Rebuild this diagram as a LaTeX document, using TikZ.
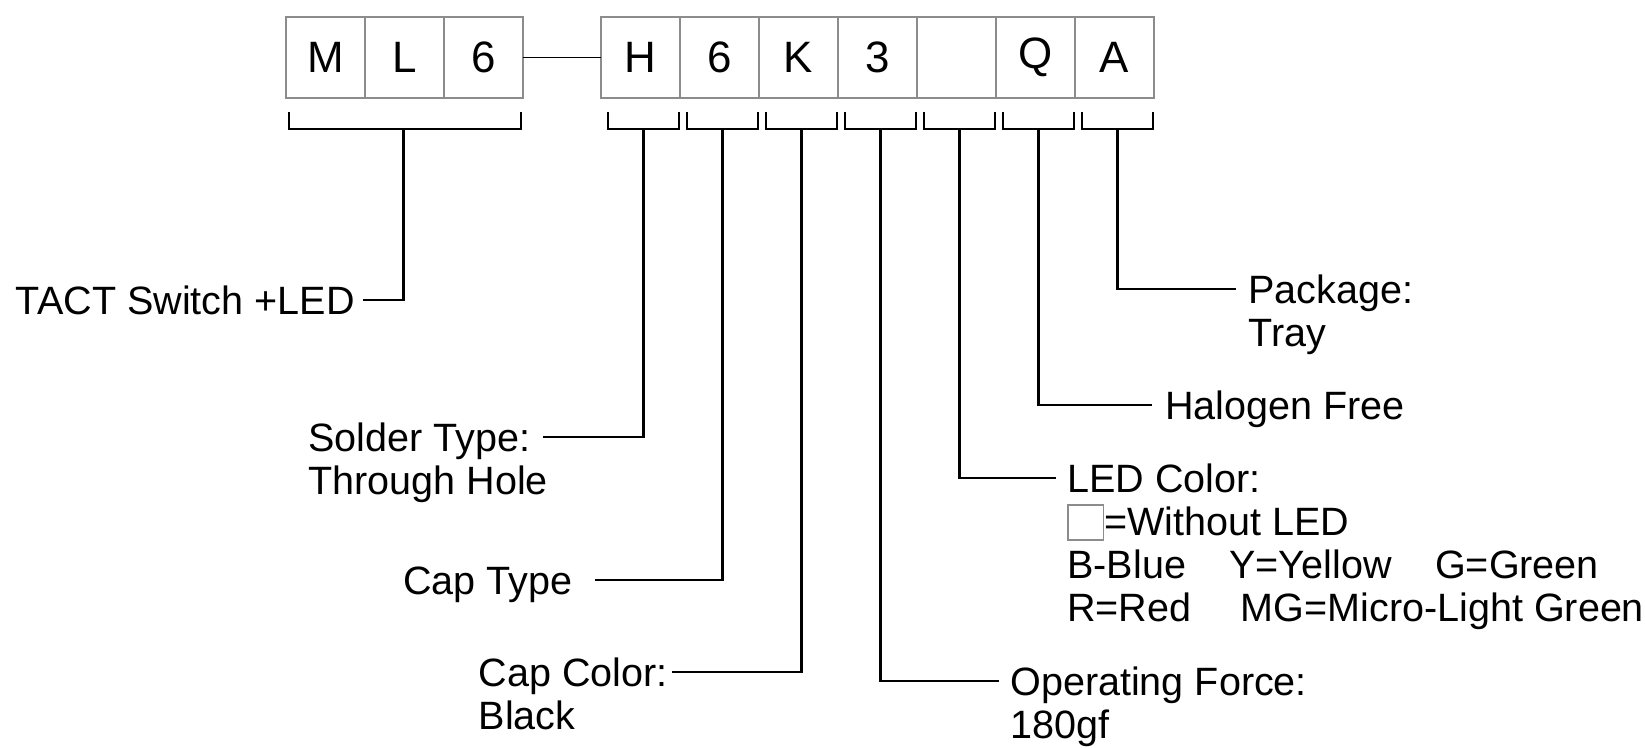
\documentclass[tikz,border=0pt]{standalone}
\usepackage{fontspec}
\setmainfont{Liberation Sans}
\newcommand{\lblfont}{\fontsize{22.5}{24.4}\selectfont}
\newcommand{\cellfont}{\fontsize{25}{28}\selectfont}
\newcommand{\noled}{{\setlength{\fboxsep}{0pt}\setlength{\fboxrule}{0.9pt}\raisebox{-0.1em}{\fcolorbox{black!45}{white}{\rule{0pt}{0.85em}\hspace{0.85em}}}}}

\begin{document}
\begin{tikzpicture}[
    x=0.02cm, y=-0.02cm,
    cell/.style={rectangle, draw=black!45, line width=1.4pt, outer sep=0pt, minimum width=1.58cm, minimum height=1.62cm, font=\cellfont},
    lbl/.style={inner ysep=0pt, align=left, font=\lblfont},
    brk/.style={line width=1.5pt},
    lead/.style={line width=1.3pt}
]
\useasboundingbox (0,0) rectangle (1645,747);
% part number cells
\node[cell] (m) at (325.5,57.5) {M};
\node[cell] (l) at (404.5,57.5) {L};
\node[cell] (six1) at (483.5,57.5) {6};
\node[cell] (h) at (640.5,57.5) {H};
\node[cell] (six2) at (719.5,57.5) {6};
\node[cell] (k) at (798.5,57.5) {K};
\node[cell] (three) at (877.5,57.5) {3};
\node[cell] (blank) at (956.5,57.5) {};
\node[cell] (q) at (1035.5,57.5) {Q};
\node[cell] (a) at (1114.5,57.5) {A};
\draw[line width=1.1pt] (six1.east) -- (h.west);
% brackets
\draw[brk] ([shift={(3,14)}]m.south west) -- ([shift={(3,31)}]m.south west) -- ([shift={(-2,31)}]six1.south east) -- ([shift={(-2,14)}]six1.south east);
\foreach \c in {h,six2,k,three,blank,q,a}
  \draw[brk] ([shift={(7,14)}]\c.south west) -- ([shift={(7,31)}]\c.south west) -- ([shift={(-1,31)}]\c.south east) -- ([shift={(-1,14)}]\c.south east);
% labels (base = last line)
\node[lbl, anchor=base east, inner xsep=0.16cm] (tact) at (363,314) {TACT Switch +LED};
\node[lbl, anchor=base west, inner xsep=0pt] (solder) at (308,494) {Solder Type:\\Through Hole};
\node[lbl, anchor=base east, inner xsep=0.44cm] (captype) at (595,594) {Cap Type};
\node[lbl, anchor=base east, inner xsep=0.08cm] (capcolor) at (672,729) {Cap Color:\\Black};
\node[lbl, anchor=base west, inner xsep=0.24cm] (package) at (1236,346) {Package:\\Tray};
\node[lbl, anchor=base west, inner xsep=0.26cm] (halogen) at (1152,419) {Halogen Free};
\node[lbl, anchor=base west, inner xsep=0.22cm] (ledcolor) at (1056,621) {LED Color:\\\noled=Without LED\\B-Blue\hspace{1.1em}Y=Yellow\hspace{1.1em}G=Green\\R=Red\hspace{1.25em}MG=Micro-Light Green};
\node[lbl, anchor=base west, inner xsep=0.22cm] (operating) at (999,738) {Operating Force:\\180gf};
% leaders
\draw[lead] ([shift={(-1,31)}]l.south) |- ([yshift=8pt]tact.base east);
\draw[lead] ([shift={(3,31)}]h.south) |- ([xshift=-0.1cm, yshift=32.4pt]solder.base east);
\draw[lead] ([shift={(3,31)}]six2.south) |- ([yshift=8pt]captype.base east);
\draw[lead] ([shift={(3,31)}]k.south) |- ([yshift=32.4pt]capcolor.base east);
\draw[lead] ([shift={(3,31)}]three.south) |- ([yshift=32.4pt]operating.base west);
\draw[lead] ([shift={(3,31)}]blank.south) |- ([yshift=81.2pt]ledcolor.base west);
\draw[lead] ([shift={(3,31)}]q.south) |- ([yshift=8pt]halogen.base west);
\draw[lead] ([shift={(3,31)}]a.south) |- ([yshift=32.4pt]package.base west);
\end{tikzpicture}
\end{document}
